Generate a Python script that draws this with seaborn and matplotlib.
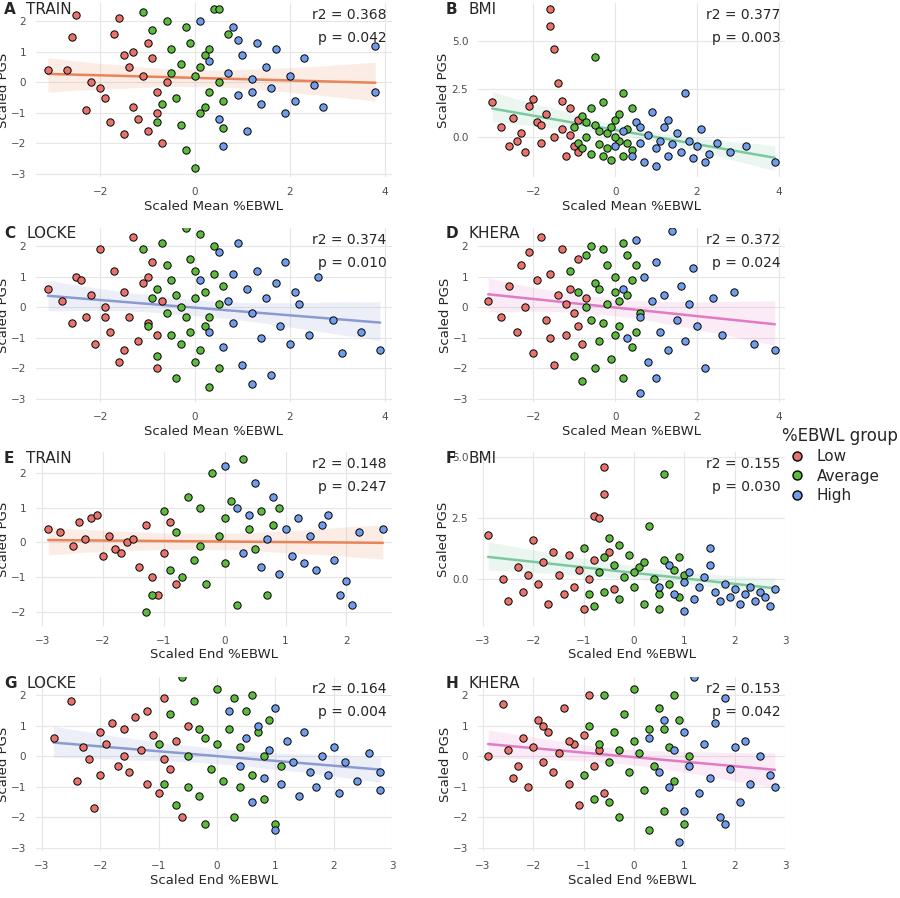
import numpy as np
import matplotlib
matplotlib.use("Agg")
import matplotlib.pyplot as plt
import seaborn as sns
from matplotlib.lines import Line2D

groups = ["Low", "Average", "High"]
group_colors = ["#E8736C", "#5DBB3C", "#6F9CEB"]

A_low = [(-3.1,0.4),(-2.7,0.4),(-2.5,2.2),(-2.6,1.5),(-2.2,0.0),(-2.0,-0.2),(-1.9,-0.5),(-1.8,-1.3),(-1.7,1.6),(-1.6,2.1),(-1.5,-1.7),(-1.4,0.5),(-1.3,-0.8),(-1.2,-1.2),(-1.1,0.2),(-1.0,-1.6),(-0.9,0.8),(-0.8,-0.3),(-0.7,-2.0),(-0.6,0.0),(-1.5,0.9),(-1.3,1.0),(-2.3,-0.9),(-1.0,1.3),(-0.8,-1.0)]
A_avg = [(-1.1,2.3),(-0.9,1.7),(-0.8,-1.3),(-0.6,2.0),(-0.5,1.1),(-0.4,-0.5),(-0.3,0.6),(-0.2,-2.2),(-0.1,1.3),(0.0,0.2),(0.1,-1.0),(0.2,0.9),(0.3,-0.3),(0.4,2.4),(0.5,0.0),(0.6,-1.5),(0.7,1.6),(-0.3,-1.4),(0.0,-2.8),(0.2,-0.8),(-0.5,0.3),(0.3,1.1),(-0.7,-0.7),(0.5,2.4),(0.1,0.5),(-0.2,1.8),(0.6,-0.6)]
A_high = [(0.1,2.0),(0.3,0.7),(0.5,-1.2),(0.7,0.3),(0.8,1.8),(0.9,-0.4),(1.0,0.9),(1.1,-1.6),(1.2,0.1),(1.3,1.3),(1.4,-0.7),(1.5,0.5),(1.6,-0.2),(1.7,1.1),(1.9,-1.0),(2.0,0.2),(2.1,-0.6),(2.3,0.8),(2.5,-0.1),(2.7,-0.8),(3.8,1.2),(3.8,-0.3),(0.6,-2.1),(1.2,-0.3),(0.9,1.4)]

B_low = [(-3.0,1.8),(-2.8,0.5),(-2.6,-0.5),(-2.5,1.0),(-2.3,0.2),(-2.2,-0.8),(-2.1,1.6),(-2.0,2.0),(-1.9,0.8),(-1.8,-0.3),(-1.7,1.2),(-1.6,6.7),(-1.6,5.8),(-1.5,4.6),(-1.5,0.0),(-1.4,2.8),(-1.3,0.4),(-1.2,-1.0),(-1.1,1.5),(-1.0,-0.5),(-0.9,0.9),(-1.3,1.9),(-1.8,0.6),(-2.4,-0.2),(-1.1,0.1),(-0.9,-0.8)]
B_avg = [(-1.0,0.5),(-0.9,-0.3),(-0.8,1.1),(-0.7,0.0),(-0.6,-0.9),(-0.5,4.2),(-0.5,0.6),(-0.4,-0.4),(-0.3,1.8),(-0.2,0.2),(-0.1,-1.2),(0.0,0.9),(0.1,-0.2),(0.2,2.3),(0.3,0.4),(0.4,-0.7),(-0.6,1.5),(-0.2,-0.6),(0.0,0.0),(0.2,-1.0),(-0.8,-0.6),(-0.4,0.3),(0.1,1.2),(0.3,-0.3),(-0.7,0.8),(-0.1,0.5),(0.4,1.5),(-0.3,-1.0)]
B_high = [(0.0,-0.5),(0.2,0.3),(0.4,-1.0),(0.5,0.8),(0.6,-0.3),(0.7,-1.3),(0.8,0.1),(0.9,1.3),(1.0,-0.6),(1.1,-0.2),(1.2,0.5),(1.3,-1.0),(1.4,-0.4),(1.5,0.2),(1.6,-0.8),(1.7,2.3),(1.8,-0.2),(1.9,-1.1),(2.0,-0.5),(2.1,0.4),(2.3,-0.9),(2.5,-0.3),(2.8,-0.8),(3.2,-0.5),(3.9,-1.3),(0.6,0.5),(1.0,-1.5),(1.3,0.9),(2.2,-1.3)]

C_low = [(-3.1,0.6),(-2.8,0.2),(-2.6,-0.5),(-2.5,1.0),(-2.3,-0.3),(-2.2,0.4),(-2.1,-1.2),(-2.0,1.9),(-1.9,0.0),(-1.8,-0.8),(-1.7,1.2),(-1.6,-1.8),(-1.5,0.5),(-1.4,-0.3),(-1.3,2.3),(-1.2,-1.1),(-1.1,0.8),(-1.0,-0.5),(-0.9,1.5),(-0.8,-2.0),(-0.7,0.2),(-1.5,-1.4),(-2.4,0.9),(-1.9,-0.3),(-1.0,1.0),(-0.8,-0.9)]
C_avg = [(-1.1,1.9),(-1.0,-0.6),(-0.9,0.3),(-0.8,-1.6),(-0.7,2.1),(-0.6,-0.2),(-0.5,0.9),(-0.4,-2.3),(-0.3,0.0),(-0.2,2.6),(-0.1,-0.8),(0.0,1.2),(0.1,-1.4),(0.2,0.5),(0.3,-0.3),(0.4,2.0),(0.5,-2.0),(0.6,0.7),(-0.6,1.4),(-0.3,-1.2),(0.0,0.3),(0.2,-0.6),(0.4,1.1),(-0.5,-0.9),(-0.1,1.6),(0.1,2.4),(-0.8,0.6),(0.3,-2.6),(0.5,0.1),(-0.2,-0.3),(-0.4,0.4),(0.0,-1.8)]
C_high = [(0.1,0.9),(0.3,-0.8),(0.5,1.8),(0.6,-1.3),(0.7,0.2),(0.8,-0.5),(0.9,2.1),(1.0,-1.9),(1.1,0.6),(1.2,-0.2),(1.3,1.2),(1.4,-1.0),(1.5,0.3),(1.6,-2.2),(1.7,0.8),(1.8,-0.6),(1.9,1.5),(2.0,-1.2),(2.2,0.1),(2.4,-0.9),(2.6,1.0),(2.9,-0.4),(3.1,-1.5),(3.5,-0.8),(3.9,-1.4),(0.8,1.1),(1.2,-2.5),(2.1,0.5)]

D_low = [(-3.1,0.2),(-2.8,-0.3),(-2.6,0.7),(-2.4,-0.8),(-2.3,1.4),(-2.2,0.0),(-2.0,-1.5),(-1.9,0.9),(-1.8,2.3),(-1.7,-0.4),(-1.6,1.1),(-1.5,-1.9),(-1.4,0.4),(-1.3,1.9),(-1.2,-0.9),(-1.1,0.6),(-1.0,-0.2),(-0.9,1.6),(-0.8,-1.2),(-0.7,0.3),(-1.6,-1.0),(-2.1,1.8),(-1.2,0.1),(-0.9,-0.6)]
D_avg = [(-1.1,1.2),(-1.0,-1.6),(-0.9,0.5),(-0.8,-2.4),(-0.7,1.7),(-0.6,-0.4),(-0.5,0.8),(-0.4,-1.1),(-0.3,1.9),(-0.2,0.1),(-0.1,-1.7),(0.0,1.0),(0.1,-0.6),(0.2,2.1),(0.3,0.4),(0.4,-1.3),(0.5,1.4),(0.6,-0.2),(-0.6,2.0),(-0.3,-0.5),(0.0,0.5),(0.2,-2.3),(0.4,0.9),(-0.5,-2.0),(-0.2,1.4),(0.1,0.2),(-0.7,0.0),(0.3,1.7),(0.5,-0.8),(-0.4,0.6),(0.0,-0.9)]
D_high = [(0.2,0.6),(0.3,-1.0),(0.5,2.2),(0.6,-0.3),(0.7,1.0),(0.8,-1.8),(0.9,0.2),(1.0,1.5),(1.1,-0.8),(1.2,0.4),(1.3,-1.4),(1.4,2.5),(1.5,-0.4),(1.6,0.7),(1.7,-1.1),(1.8,0.1),(1.9,1.3),(2.0,-0.6),(2.2,-2.0),(2.4,0.3),(2.6,-0.9),(2.9,0.5),(3.4,-1.2),(3.9,-1.4),(0.6,-2.8),(1.0,-2.3)]

E_low = [(-2.9,0.4),(-2.7,0.3),(-2.5,-0.1),(-2.3,0.1),(-2.2,0.7),(-2.1,0.8),(-2.0,-0.4),(-1.9,0.2),(-1.8,-0.2),(-1.6,0.0),(-1.5,0.1),(-1.4,-0.7),(-1.3,0.5),(-1.2,-1.0),(-1.1,-1.5),(-1.0,-0.3),(-0.9,0.6),(-0.8,-1.2),(-2.4,0.6),(-1.7,-0.3)]
E_avg = [(-1.3,-2.0),(-1.2,-1.5),(-1.0,0.9),(-0.9,-0.8),(-0.8,0.3),(-0.6,1.3),(-0.5,-0.5),(-0.4,1.0),(-0.3,-1.2),(-0.2,2.0),(-0.1,0.2),(0.0,-0.6),(0.1,1.2),(0.2,-1.8),(0.3,2.4),(0.4,0.4),(0.5,-0.2),(0.6,0.9),(0.7,-1.5),(0.8,0.5),(0.9,1.0),(-0.7,-1.0),(0.0,0.7),(-0.4,-0.1)]
E_high = [(0.0,2.2),(0.2,1.0),(0.3,-0.3),(0.4,0.8),(0.5,1.7),(0.6,-0.7),(0.7,0.1),(0.8,1.3),(0.9,-0.9),(1.0,0.4),(1.1,-0.4),(1.2,0.7),(1.3,-0.6),(1.4,0.2),(1.5,-0.8),(1.6,0.5),(1.7,0.8),(1.8,-0.5),(2.0,-1.1),(2.1,-1.8),(2.2,0.3),(2.6,0.4),(1.9,-1.5)]

F_low = [(-2.9,1.8),(-2.6,0.0),(-2.5,-0.9),(-2.3,0.5),(-2.2,-0.5),(-2.0,1.6),(-1.9,-0.2),(-1.8,0.7),(-1.7,-1.0),(-1.5,0.2),(-1.4,-0.6),(-1.3,1.0),(-1.2,-0.3),(-1.1,0.4),(-1.0,-1.2),(-0.9,0.0),(-0.8,2.6),(-0.7,2.5),(-0.6,4.6),(-0.5,1.1),(-0.4,-0.4),(-0.6,3.5),(-2.1,0.2),(-1.6,1.1),(-0.8,0.8)]
F_avg = [(-1.0,1.3),(-0.9,-0.6),(-0.8,-1.1),(-0.7,0.3),(-0.6,-0.5),(-0.5,1.7),(-0.4,0.6),(-0.3,-0.8),(-0.2,0.1),(-0.1,1.0),(0.0,-0.3),(0.1,0.5),(0.2,-1.0),(0.3,2.2),(0.4,0.0),(0.5,-0.6),(0.6,4.3),(0.6,0.8),(0.7,-0.2),(0.8,0.4),(0.9,-0.7),(1.0,0.2),(-0.3,1.4),(0.2,0.7),(-0.6,0.9),(0.5,-1.2),(0.0,0.3),(0.9,0.9)]
F_high = [(0.5,-0.3),(0.7,0.6),(0.8,-0.6),(1.0,-0.1),(1.1,0.3),(1.2,-0.8),(1.3,-0.3),(1.4,0.1),(1.5,1.3),(1.6,-0.5),(1.7,-0.9),(1.8,-0.2),(1.9,-0.7),(2.0,-0.4),(2.1,-1.0),(2.2,-0.6),(2.3,-0.3),(2.4,-0.9),(2.5,-0.5),(2.6,-0.7),(2.7,-1.1),(2.8,-0.4),(1.0,-1.3),(1.5,0.6)]

G_low = [(-2.8,0.6),(-2.5,1.8),(-2.4,-0.8),(-2.3,0.3),(-2.2,-0.1),(-2.1,-1.7),(-2.0,0.8),(-1.9,0.4),(-1.8,1.1),(-1.7,-0.3),(-1.6,0.9),(-1.5,-0.5),(-1.4,1.3),(-1.3,0.2),(-1.2,-0.9),(-1.1,0.7),(-1.0,-1.2),(-0.9,1.9),(-0.8,-0.4),(-0.7,0.5),(-0.6,-2.0),(-0.5,1.0),(-1.6,0.0),(-2.0,-0.6),(-1.2,1.5),(-0.9,-0.1)]
G_avg = [(-1.0,0.4),(-0.9,-0.9),(-0.8,1.4),(-0.7,-1.6),(-0.6,2.6),(-0.5,0.0),(-0.4,1.8),(-0.3,-1.3),(-0.2,0.6),(-0.1,-0.4),(0.0,2.2),(0.1,-0.8),(0.2,0.9),(0.3,-2.0),(0.4,0.3),(0.5,1.5),(0.6,-0.6),(0.7,0.8),(0.8,-1.4),(0.9,1.2),(1.0,-2.2),(1.1,-0.3),(-0.5,-1.0),(0.0,0.4),(0.3,1.9),(-0.2,-2.2),(0.6,2.0),(0.8,0.0),(-0.3,0.9),(0.4,-1.0)]
G_high = [(0.2,1.5),(0.4,-0.3),(0.5,0.6),(0.6,-1.5),(0.7,1.0),(0.8,-0.7),(0.9,0.2),(1.0,1.6),(1.1,-0.9),(1.2,0.5),(1.3,-0.2),(1.4,-1.3),(1.5,0.8),(1.6,-0.5),(1.7,-1.0),(1.8,0.0),(1.9,-0.6),(2.0,0.3),(2.1,-1.2),(2.2,-0.2),(2.4,-0.8),(2.6,0.1),(2.8,-0.5),(2.8,-1.1),(1.0,-2.4)]

H_low = [(-2.9,0.0),(-2.6,1.7),(-2.5,0.2),(-2.4,-0.7),(-2.2,0.6),(-2.1,-1.0),(-2.0,0.3),(-1.9,1.2),(-1.8,-0.2),(-1.7,0.8),(-1.6,-0.5),(-1.5,0.1),(-1.4,1.6),(-1.3,-0.9),(-1.2,0.4),(-1.1,-1.6),(-1.0,0.7),(-0.9,2.0),(-0.8,-0.3),(-0.7,0.2),(-0.6,-1.2),(-1.8,1.0),(-1.3,0.5),(-2.3,-0.3)]
H_avg = [(-1.0,-0.6),(-0.9,1.0),(-0.8,-1.4),(-0.7,0.4),(-0.6,2.0),(-0.5,-0.2),(-0.4,0.8),(-0.3,-2.0),(-0.2,1.4),(-0.1,-0.5),(0.0,2.2),(0.1,0.1),(0.2,-1.1),(0.3,0.9),(0.4,-0.3),(0.5,1.6),(0.6,-1.8),(0.7,0.3),(0.8,-0.8),(0.9,1.2),(1.0,-2.2),(1.1,0.0),(-0.5,-1.5),(0.0,0.5),(0.3,-2.4),(0.6,0.9),(-0.3,0.2),(0.8,2.0)]
H_high = [(0.3,0.6),(0.5,-0.5),(0.6,1.2),(0.7,-1.0),(0.8,0.2),(0.9,-2.8),(1.0,0.8),(1.1,-0.3),(1.2,2.6),(1.3,-1.2),(1.4,0.4),(1.5,-0.7),(1.6,1.1),(1.7,-2.0),(1.8,1.9),(1.9,-0.4),(2.0,0.3),(2.1,-1.5),(2.2,0.5),(2.3,-0.9),(2.5,0.0),(2.7,-0.6),(2.8,-1.0),(1.8,-2.2),(1.0,-1.8)]

letters = ["A","B","C","D","E","F","G","H"]
titles = ["TRAIN","BMI","LOCKE","KHERA","TRAIN","BMI","LOCKE","KHERA"]
r2_vals = ["0.368","0.377","0.374","0.372","0.148","0.155","0.164","0.153"]
p_vals = ["0.042","0.003","0.010","0.024","0.247","0.030","0.004","0.042"]
xlabels = ["Scaled Mean %EBWL"]*4 + ["Scaled End %EBWL"]*4
line_colors = ["#E8845A","#7CC9A0","#8C9AD2","#E07BC4"]*2
panels = [(A_low,A_avg,A_high),(B_low,B_avg,B_high),(C_low,C_avg,C_high),(D_low,D_avg,D_high),
          (E_low,E_avg,E_high),(F_low,F_avg,F_high),(G_low,G_avg,G_high),(H_low,H_avg,H_high)]

sns.set_theme(style="whitegrid")
plt.rcParams['font.family'] = ['DejaVu Sans']
fig = plt.figure(figsize=(9, 8.98), dpi=100)
W, H = 900, 898
col_l = [36, 478]
col_w = [356, 307]
row_top = [3, 228, 452, 677]
row_h = 174

for i in range(8):
    r, c = divmod(i, 2)
    ax = fig.add_axes([col_l[c]/W, 1-(row_top[r]+row_h)/H, col_w[c]/W, row_h/H])
    ax.set_facecolor("white")
    for s in ax.spines.values():
        s.set_visible(False)
    ax.grid(True, color="#E6E6E6", lw=0.8)
    allx, ally = [], []
    for g, pts, col in zip(groups, panels[i], group_colors):
        xs = [p[0] for p in pts]; ys = [p[1] for p in pts]
        allx += xs; ally += ys
        sns.scatterplot(x=xs, y=ys, ax=ax, color=col, edgecolor="black", linewidth=0.7, s=28, zorder=3)
    sns.regplot(x=np.array(allx), y=np.array(ally), ax=ax, scatter=False, color=line_colors[i],
                line_kws=dict(lw=1.8), ci=95, truncate=True)
    if i < 4:
        ax.set_xlim(-3.35, 4.15)
        ax.set_xticks([-2, 0, 2, 4])
    elif i == 4:
        ax.set_xlim(-3.1, 2.75)
        ax.set_xticks([-3, -2, -1, 0, 1, 2])
    else:
        ax.set_xlim(-3.1, 2.95)
        ax.set_xticks([-3, -2, -1, 0, 1, 2, 3])
    if i == 1:
        ax.set_ylim(-2.1, 7.0)
        ax.set_yticks([0, 2.5, 5.0]); ax.set_yticklabels(["0.0", "2.5", "5.0"])
    elif i == 5:
        ax.set_ylim(-1.9, 5.2)
        ax.set_yticks([0, 2.5, 5.0]); ax.set_yticklabels(["0.0", "2.5", "5.0"])
    elif i == 4:
        ax.set_ylim(-2.4, 2.6)
        ax.set_yticks([-2, -1, 0, 1, 2])
    else:
        ax.set_ylim(-3.1, 2.6)
        ax.set_yticks([-3, -2, -1, 0, 1, 2])
    ax.tick_params(labelsize=7.5, colors="#4D4D4D", pad=1)
    ax.set_xlabel(xlabels[i], fontsize=9.5, labelpad=2)
    ax.set_ylabel("Scaled PGS", fontsize=9.5, labelpad=1)
    ax.text(0.985, 0.97, f"r2 = {r2_vals[i]}", transform=ax.transAxes, ha="right", va="top", fontsize=10, zorder=5)
    ax.text(0.985, 0.84, f"p = {p_vals[i]}", transform=ax.transAxes, ha="right", va="top", fontsize=10, zorder=5)
    lx = [4, 446][c]
    fig.text(lx/W, 1-(row_top[r]+6)/H, letters[i], fontsize=11, fontweight="bold", va="center")
    fig.text((lx+22)/W, 1-(row_top[r]+6)/H, titles[i], fontsize=11, va="center")

handles = [Line2D([], [], marker="o", ls="", markerfacecolor=c, markeredgecolor="black", markersize=6.5, label=g)
           for g, c in zip(groups, group_colors)]
leg = fig.legend(handles=handles, title="%EBWL group", loc="center left", bbox_to_anchor=(768/W, 1-465/H),
                 frameon=False, fontsize=11, title_fontsize=12, handletextpad=0.3, labelspacing=0.3)
leg._legend_box.align = "left"
fig.savefig("out.png", dpi=100, facecolor="white")
